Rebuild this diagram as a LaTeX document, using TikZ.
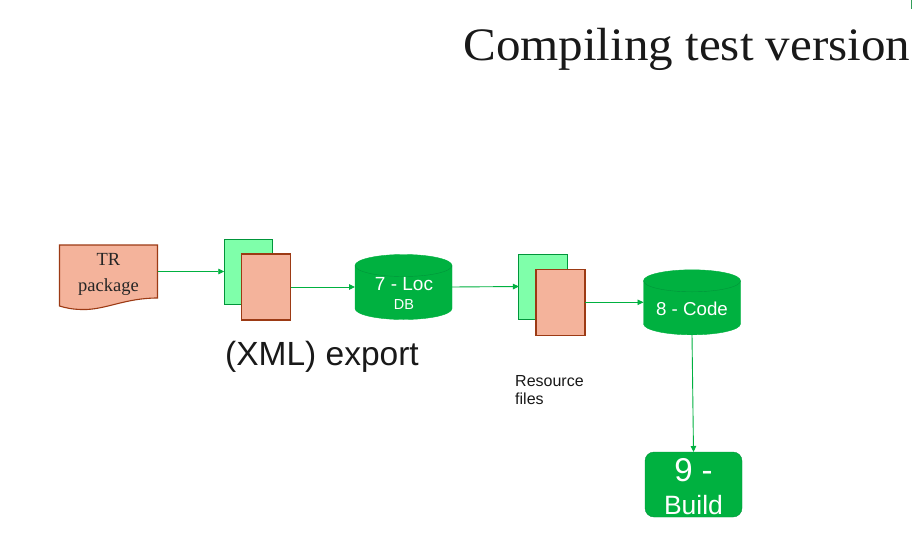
\documentclass[tikz,border=0pt]{standalone}
\usepackage{fontspec}
\setmainfont{Liberation Serif}
\setsansfont{Liberation Sans}
\newfontfamily\titlefont[FakeStretch=1.055]{Liberation Serif}
\usetikzlibrary{arrows.meta}
\definecolor{tgreen}{HTML}{00B140}
\definecolor{tedge}{HTML}{00953A}
\definecolor{lgreen}{HTML}{7FFFAA}
\definecolor{salmon}{HTML}{F4B39B}
\definecolor{rust}{HTML}{9C3A14}
\newcommand{\drumshape}[1]{%
  \path[drumbody] ([yshift=-11pt]#1.north west) -- ([yshift=11pt]#1.south west)
    arc[x radius=48.5pt,y radius=11pt,start angle=180,end angle=360]
    -- ([yshift=-11pt]#1.north east)
    arc[x radius=48.5pt,y radius=11pt,start angle=0,end angle=180] -- cycle;
  \draw[drumrim] ([yshift=-11pt]#1.north west)
    arc[x radius=48.5pt,y radius=11pt,start angle=180,end angle=360];
}
\tikzset{
  x=1pt,y=-1pt,
  conn/.style={draw=tgreen,line width=0.9pt,-{Triangle[length=6pt,width=5.5pt]}},
  rearpage/.style={draw=tedge,fill=lgreen,line width=1pt,minimum width=48.5pt,minimum height=65pt,inner sep=0pt,outer sep=0pt},
  frontpage/.style={draw=rust,fill=salmon,line width=1.1pt,minimum width=49pt,minimum height=66pt,inner sep=0pt,outer sep=0pt},
  drumbox/.style={minimum width=97pt,minimum height=65pt,inner sep=0pt,outer sep=0pt},
  drumbody/.style={draw=tgreen,line width=0.4pt,fill=tgreen},
  drumrim/.style={draw=tedge,line width=0.4pt},
  wlabel/.style={text=white,font=\sffamily,align=center,inner sep=0pt},
}
\begin{document}
\begin{tikzpicture}
\useasboundingbox (0,0) rectangle (912,536);
\fill[white] (0,0) rectangle (912,536);
% title
\node[anchor=base east,font=\titlefont\fontsize{46.5}{50}\selectfont,text=black!90,inner sep=0pt] (title) at (910.5,60) {Compiling test version};
\coordinate (tickA) at (911.5,0);
\coordinate (tickB) at (911.5,9);
\draw[tgreen!60!gray,line width=0.8pt] (tickA) -- (tickB);
% TR package document
\coordinate (trNW) at (59.5,245);
\coordinate (trNE) at (157.5,245);
\coordinate (trSE) at (157.5,298);
\coordinate (trSW) at (59.5,306);
\draw[draw=rust,fill=salmon,line width=1.1pt] (trNW) -- (trNE) -- (trSE)
  .. controls (125,298) and (105,310) .. (83,309.5)
  .. controls (73,309.5) and (66,308) .. (trSW) -- cycle;
\node[minimum width=98pt,minimum height=53pt,inner sep=0pt,font=\fontsize{18.5}{26}\selectfont,text=black!85,align=center] (tr) at (108.5,274) {TR\\package};
% pages 1
\node[rearpage] (p1back) at (248.5,271.5) {};
\node[frontpage] (p1front) at (266.3,287) {};
% cylinder 1
\node[drumbox] (db) at (403.5,287) {};
\drumshape{db}
\node[wlabel,font=\sffamily\fontsize{19}{22}\selectfont] (dbA) at (404,284) {7 - Loc};
\node[wlabel,font=\sffamily\fontsize{14.5}{16}\selectfont] (dbB) at (404,304.5) {DB};
% pages 2
\node[rearpage] (p2back) at (543.2,286.5) {};
\node[frontpage] (p2front) at (560.5,302.3) {};
% cylinder 2
\node[drumbox] (code) at (692,302.3) {};
\drumshape{code}
\node[wlabel,font=\sffamily\fontsize{18.7}{22}\selectfont] (codeL) at (692,309) {8 - Code};
% build
\node[draw=tedge,line width=0.4pt,fill=tgreen,rounded corners=9pt,minimum width=97pt,minimum height=65pt,inner sep=0pt,outer sep=0pt] (build) at (693.5,484.5) {};
\node[wlabel,font=\sffamily\fontsize{33}{36}\selectfont] (buildA) at (693.5,470) {9 -};
\node[wlabel,font=\sffamily\fontsize{26.5}{30}\selectfont] (buildB) at (693.5,505.5) {Build};
% labels
\node[anchor=base west,inner sep=0pt,font=\sffamily\fontsize{33.5}{38}\selectfont,text=black!90] (xml) at (225,365) {(XML) export};
\node[anchor=north west,inner sep=0pt,align=left,font=\sffamily\fontsize{16}{18}\selectfont,text=black!90] (res) at (515,375) {Resource\\files};
% connectors
\draw[conn] (tr.east |- p1back.west) -- (p1back.west);
\draw[conn] (p1front.east) -- (db.west);
\draw[conn] (db.east) -- (p2back.west);
\draw[conn] (p2front.east) -- (code.west);
\draw[conn] (code.south) -- (build.north);
\end{tikzpicture}
\end{document}
